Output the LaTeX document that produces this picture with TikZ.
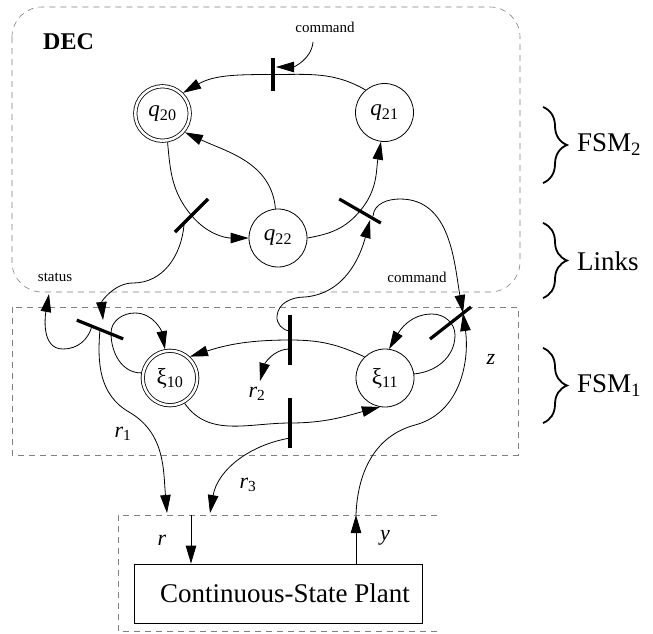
\documentclass[tikz,border=0pt]{standalone}
\usepackage{fontspec}
\setmainfont{Liberation Serif}
\usetikzlibrary{arrows.meta,decorations.pathreplacing,calc}
\begin{document}
\begin{tikzpicture}[x=1pt,y=-1pt,
  conn/.style={line width=0.8pt},
  arr/.style={conn,-{Triangle[length=18pt,width=10.5pt]}},
  stt/.style={circle,draw,line width=0.8pt,minimum size=58pt,inner sep=0pt,font=\fontsize{23}{25}\selectfont},
  dstt/.style={stt,double,double distance=2.5pt,minimum size=54.5pt,outer sep=2.05pt},
  barnode/.style={rectangle,fill=black,draw=none,minimum width=3.2pt,inner sep=0pt},
  frame/.style={gray,line width=0.6pt,dash pattern=on 6pt off 5pt},
  small/.style={font=\fontsize{15}{17}\selectfont,inner sep=0pt},
  big/.style={font=\fontsize{27}{30}\selectfont},
  lab/.style={font=\fontsize{22}{24}\selectfont,inner sep=0pt},
  brc/.style={decorate,decoration={brace,amplitude=24pt},line width=1.8pt}
]
\useasboundingbox (0,0) rectangle (653,633);

% frames
\draw[frame, rounded corners=30pt] (12,7) rectangle (520,292);
\draw[frame] (12,307) rectangle (518,455);
\draw[frame] (437,515) -- (118,515) -- (118,631) -- (437,631);

% states
\node[dstt] (q20) at (162.5,113.5) {\textit{q}\textsubscript{20}};
\node[stt] (q21) at (384.5,112.5) {\textit{q}\textsubscript{21}};
\node[stt] (q22) at (278,238) {\textit{q}\textsubscript{22}};
\node[dstt] (x10) at (170,378) {ξ\textsubscript{10}};
\node[stt] (x11) at (385,378) {ξ\textsubscript{11}};

% bars
\node[barnode,minimum height=33pt] (B1) at (273,74.5) {};
\node[barnode,minimum height=47pt,rotate=-45] (B2) at (191.5,215.5) {};
\node[barnode,minimum height=50pt,rotate=68] (B3) at (100,329.5) {};
\node[barnode,minimum height=50pt] (B4) at (290,340) {};
\node[barnode,minimum height=48pt,rotate=60] (B5) at (360,211) {};
\node[barnode,minimum height=50pt] (B6) at (290,423) {};
\node[barnode,minimum height=52pt,rotate=-52] (B7) at (450.5,323) {};

% coordinates
\coordinate (B1t) at (276,67);
\coordinate (B2s) at (184,225);
\coordinate (B3t) at (103,320);
\coordinate (B3s) at (92,326);
\coordinate (B3l) at (111,333);
\coordinate (B4a) at (290,331);
\coordinate (B4b) at (290,349);
\coordinate (B6b) at (290,438);
\coordinate (B5in) at (370,220);
\coordinate (B5r) at (373,216);
\coordinate (B7a) at (463,313);
\coordinate (R0) at (191,515);
\coordinate (Y0) at (356,515);
\coordinate (r1t) at (167,513);
\coordinate (r3t) at (210,513);
\coordinate (r2t) at (260,381);
\coordinate (stip) at (49,294);
\coordinate (c1) at (313,42);

% plant
\node[draw,line width=0.8pt,minimum width=288pt,minimum height=59pt,big] (plant) at (278,593.5) {\hspace*{14pt}Continuous-State Plant};

% texts
\node[small] (cmdtop) at (325,27) {command};
\node[small] (cmdlow) at (417,277) {command};
\node[small] (status) at (55,277) {status};
\node[font=\bfseries\fontsize{24}{26}\selectfont,anchor=west,inner sep=0pt] (dec) at (43,42) {DEC};
\node[lab] (lr1) at (123,434) {\textit{r}\textsubscript{1}};
\node[lab] (lr2) at (257,394) {\textit{r}\textsubscript{2}};
\node[lab] (lr3) at (248,485) {\textit{r}\textsubscript{3}};
\node[lab] (lr) at (162,540) {\textit{r}};
\node[lab] (ly) at (385,538) {\textit{y}};
\node[lab] (lz) at (491,359) {\textit{z}};

% braces
\draw[brc] (543,107) -- (543,183);
\node[big,anchor=west,inner sep=0pt] (fsm2) at (577,145) {FSM\textsubscript{2}};
\draw[brc] (543,223) -- (543,298);
\node[big,anchor=west,inner sep=0pt] (links) at (577,261) {Links};
\draw[brc] (543,348) -- (543,423);
\node[big,anchor=west,inner sep=0pt] (fsm1) at (577,386) {FSM\textsubscript{1}};

% FSM2 connectors
\draw[arr] (q21.130) to[out=150,in=0] (B1.center) to[out=180,in=30] (q20.45);
\draw[arr] (c1) to[out=-95,in=0] (B1t);
\draw[arr] (q22.95) to[out=95,in=-25] (q20.-40);
\draw[arr] (q20.-80) to[out=-85,in=130] (B2.center) to[out=-50,in=180] (q22.west);
\draw[arr] (q22.east) to[out=10,in=-130] (B5.center) to[out=50,in=-100] (q21.-97);

% links
\draw[arr] (B2s) to[out=-95,in=0] (133,283) to[out=180,in=95] (B3t);
\draw[arr] (B4a) to[out=175,in=-95] (277,316) to[out=85,in=180] (305,297) to[out=5,in=-105] (B5in);
\draw[arr] (B5r) to[out=85,in=180] (400,199) to[out=0,in=100] (B7a);
\draw[arr] (B3s) to[out=-105,in=0] (63,349) to[out=180,in=-100] (stip);

% FSM1 connectors
\draw[arr] (x10.170) to[out=180,in=-90] (B3l) to[out=90,in=180] (135,313) to[out=0,in=100] (x10.100);
\draw[arr] (x11.134) to[out=155,in=0] (B4.center) to[out=180,in=18] (x10.47);
\draw[arr] (x10.-60) to[out=-55,in=180] (B6.center) to[out=0,in=-165] (x11.-100);
\draw[arr] (x11.8) to[out=5,in=-90] (455,335) to[out=90,in=0] (432,314) to[out=180,in=60] (x11.82);
\draw[arr] (B4b) to[out=180,in=75] (r2t);
\draw[arr] (B6b) to[out=190,in=80] (r3t);
\draw[arr] (B3.center) to[out=-95,in=150] (129,412) to[out=-30,in=95] (r1t);

% plant connections
\draw[arr] (R0) -- (R0 |- plant.north);
\draw[arr] (Y0 |- plant.north) -- (Y0);
\draw[arr] (Y0) to[out=88,in=195] (415,425) to[out=15,in=-82] (B7a);
\end{tikzpicture}
\end{document}
